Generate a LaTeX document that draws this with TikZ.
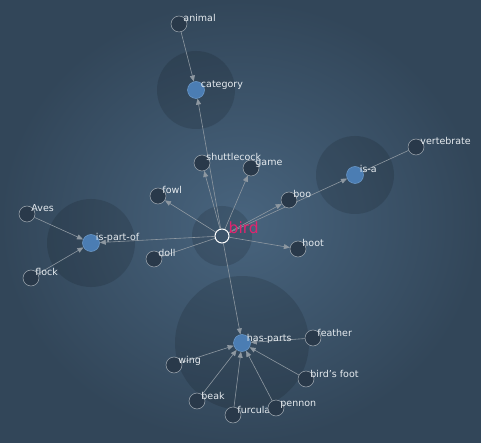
\documentclass[tikz,border=0pt]{standalone}
\usepackage{fontspec}
\setmainfont{DejaVu Sans}
\usetikzlibrary{arrows.meta}
\definecolor{bgin}{HTML}{48647E}
\definecolor{bgout}{HTML}{324659}
\definecolor{termfill}{HTML}{29394A}
\definecolor{rimgray}{HTML}{A3ACB4}
\definecolor{relblue}{HTML}{4B7DB3}
\definecolor{relrim}{HTML}{6E9CCB}
\definecolor{lblwhite}{HTML}{E6EBEF}
\definecolor{birdpink}{HTML}{E0246F}
\definecolor{edgegray}{HTML}{8E98A1}
\pgfdeclarelayer{halos}
\pgfdeclarelayer{edges}
\pgfsetlayers{halos,edges,main}

\begin{document}
\begin{tikzpicture}[x=1pt, y=-1pt,
  term/.style={circle, draw=rimgray, fill=termfill, line width=0.5pt,
               minimum size=16pt, inner sep=0pt, label distance=0pt},
  rel/.style={term, draw=relrim, fill=relblue, minimum size=17pt},
  lbl/.style={anchor=base west, inner sep=0pt, xshift=-4pt, yshift=2pt,
              text=lblwhite, font=\fontsize{9.5}{11}\selectfont},
  birdlbl/.style={lbl, xshift=3pt, text=birdpink, font=\fontsize{15.5}{17}\selectfont},
  halo/.style={fill=black, opacity=0.13},
  arr/.style={-{Triangle[length=6pt,width=5pt]}, draw=edgegray, line width=0.6pt},
  link/.style={draw=edgegray, line width=0.6pt}]
\useasboundingbox (0,0) rectangle (481,443);
% nodes
\node[circle, draw=white, line width=1pt, minimum size=14pt, inner sep=0pt,
      label={[birdlbl]0:bird}] (bird) at (222,236) {};
\node[rel, label={[lbl]0:category}] (category) at (196,90) {};
\node[rel, label={[lbl]0:is-a}] (isa) at (355,175) {};
\node[rel, label={[lbl]0:is-part-of}] (ispartof) at (91,243) {};
\node[rel, label={[lbl]0:has-parts}] (hasparts) at (242,343) {};
\node[term, label={[lbl]0:animal}] (animal) at (179,24) {};
\node[term, label={[lbl]0:shuttlecock}] (shuttlecock) at (202,163) {};
\node[term, label={[lbl]0:game}] (game) at (251,168) {};
\node[term, label={[lbl]0:fowl}] (fowl) at (158,196) {};
\node[term, label={[lbl]0:boo}] (boo) at (289,200) {};
\node[term, label={[lbl]0:hoot}] (hoot) at (298,249) {};
\node[term, label={[lbl]0:doll}] (doll) at (154,259) {};
\node[term, label={[lbl]0:vertebrate}] (vertebrate) at (416,147) {};
\node[term, label={[lbl]0:Aves}] (aves) at (27,214) {};
\node[term, label={[lbl]0:flock}] (flock) at (31,278) {};
\node[term, label={[lbl]0:feather}] (feather) at (313,338) {};
\node[term, label={[lbl]0:wing}] (wing) at (174,365) {};
\node[term, label={[lbl]0:bird's foot}] (birdsfoot) at (306,379) {};
\node[term, label={[lbl]0:beak}] (beak) at (197,401) {};
\node[term, label={[lbl]0:furcula}] (furcula) at (233,415) {};
\node[term, label={[lbl]0:pennon}] (pennon) at (276,408) {};
% background and halos
\begin{pgfonlayer}{halos}
\shade[inner color=bgin, outer color=bgout] (0,0) rectangle (481,443);
\fill[halo] (category) circle[radius=39];
\fill[halo] (bird) circle[radius=30];
\fill[halo] (ispartof) circle[radius=44];
\fill[halo] (isa) circle[radius=39];
\fill[halo] (hasparts) circle[radius=67];
\end{pgfonlayer}
% edges
\begin{pgfonlayer}{edges}
\draw[arr] (animal) -- (category);
\draw[arr] (bird) -- (category);
\draw[arr] (bird) -- (shuttlecock);
\draw[arr] (bird) -- (game);
\draw[arr] (bird) -- (fowl);
\draw[arr] (bird) -- (boo);
\draw[arr] (bird) -- (isa);
\draw[arr] (bird) -- (hoot);
\draw[link] (bird) -- (doll);
\draw[arr] (bird) -- (ispartof);
\draw[arr] (bird) -- (hasparts);
\draw[link] (isa) -- (vertebrate);
\draw[arr] (aves) -- (ispartof);
\draw[arr] (flock) -- (ispartof);
\draw[arr] (feather) -- (hasparts);
\draw[arr] (wing) -- (hasparts);
\draw[arr] (birdsfoot) -- (hasparts);
\draw[arr] (beak) -- (hasparts);
\draw[arr] (furcula) -- (hasparts);
\draw[arr] (pennon) -- (hasparts);
\end{pgfonlayer}
\end{tikzpicture}
\end{document}
